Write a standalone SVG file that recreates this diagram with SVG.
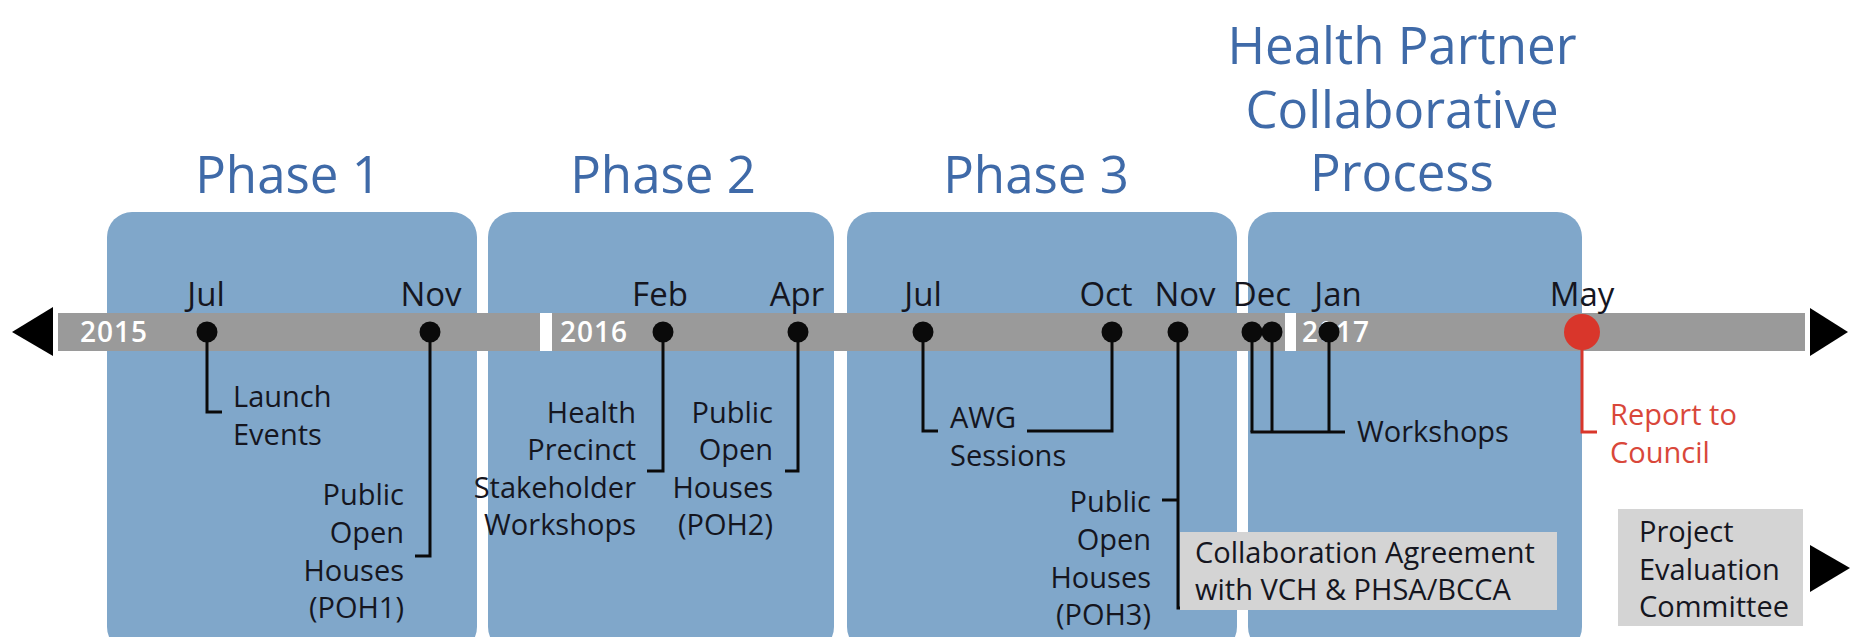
<svg xmlns="http://www.w3.org/2000/svg" width="1851" height="637" viewBox="0 0 1851 637">
<style>
.box{fill:#80a7ca}
.title{font-family:"Open Sans",sans-serif;font-size:51px;fill:#3f6aa8;text-anchor:middle}
.month{font-family:"Open Sans",sans-serif;font-size:33px;fill:#15161f;text-anchor:middle}
.lbl{font-family:"Open Sans",sans-serif;font-size:29px;fill:#15161f}
.r{text-anchor:end}
.year{font-family:"Open Sans",sans-serif;font-size:28px;font-weight:600;fill:#ffffff;letter-spacing:1px}
.dot{fill:#0a0a0a}
.ln{fill:none;stroke:#0a0a0a;stroke-width:3}
.red{fill:#d9473a}
.gbox{fill:#d4d4d4}
</style>
<rect width="1851" height="637" fill="#ffffff"/>
<g id="phase1">
<rect class="box" x="107" y="212" width="370" height="440" rx="25"/>
<text class="title" x="288" y="193">Phase 1</text>
</g>
<g id="phase2">
<rect class="box" x="488" y="212" width="346" height="440" rx="25"/>
<text class="title" x="663" y="193">Phase 2</text>
</g>
<g id="phase3">
<rect class="box" x="847" y="212" width="390" height="440" rx="25"/>
<text class="title" x="1036" y="193">Phase 3</text>
</g>
<g id="phase4">
<rect class="box" x="1248" y="212" width="334" height="440" rx="25"/>
<text class="title" font-size="55"><tspan x="1402" y="64">Health Partner</tspan><tspan x="1402" y="128">Collaborative</tspan><tspan x="1402" y="191">Process</tspan></text>
</g>
<g id="timeline">
<rect x="58" y="313" width="1747" height="38" fill="#9a9a9a"/>
<polygon points="12,332 53,307 53,356" fill="#000"/>
<polygon points="1848,332 1810,308 1810,356" fill="#000"/>
<rect x="540" y="313" width="12" height="38" fill="#fff"/>
<rect x="1285" y="313" width="11" height="38" fill="#fff"/>
<text class="year" x="80" y="342">2015</text>
<text class="year" x="560" y="342">2016</text>
<text class="year" x="1302" y="342">2017</text>
</g>
<g id="connectors">
<polyline class="ln" points="207,332 207,412 222,412"/>
<polyline class="ln" points="430,332 430,556 415,556"/>
<polyline class="ln" points="663,332 663,471 647,471"/>
<polyline class="ln" points="798,332 798,471 785,471"/>
<polyline class="ln" points="923,332 923,431 938,431"/>
<polyline class="ln" points="1112,332 1112,431 1027,431"/>
<polyline class="ln" points="1178,332 1178,608 1192,608"/>
<line class="ln" x1="1162" y1="500" x2="1178" y2="500"/>
<line class="ln" x1="1252" y1="332" x2="1252" y2="432"/>
<line class="ln" x1="1272" y1="332" x2="1272" y2="432"/>
<line class="ln" x1="1329" y1="332" x2="1329" y2="432"/>
<line class="ln" x1="1250.5" y1="432" x2="1345" y2="432"/>
<polyline points="1582,332 1582,432 1597,432" fill="none" stroke="#d9362b" stroke-width="3"/>
</g>
<g id="collab">
<rect class="gbox" x="1180" y="532" width="377" height="78"/>
<text class="lbl" x="1195" y="563">Collaboration Agreement</text>
<text class="lbl" x="1195" y="600">with VCH &amp; PHSA/BCCA</text>
</g>
<g id="pec">
<rect class="gbox" x="1618" y="509" width="185" height="117"/>
<text class="lbl" x="1639" y="542">Project</text>
<text class="lbl" x="1639" y="580">Evaluation</text>
<text class="lbl" x="1639" y="617">Committee</text>
<polygon points="1850,568 1810,545 1810,592" fill="#000"/>
</g>
<g id="ev-jul15">
<circle class="dot" cx="207" cy="332" r="10.5"/>
<text class="month" x="206" y="306">Jul</text>
<text class="lbl" x="233" y="407">Launch</text>
<text class="lbl" x="233" y="445">Events</text>
</g>
<g id="ev-nov15">
<circle class="dot" cx="430" cy="332" r="10.5"/>
<text class="month" x="431" y="306">Nov</text>
<text class="lbl r" x="404" y="505">Public</text>
<text class="lbl r" x="404" y="543">Open</text>
<text class="lbl r" x="404" y="581">Houses</text>
<text class="lbl r" x="404" y="618">(POH1)</text>
</g>
<g id="ev-feb16">
<circle class="dot" cx="663" cy="332" r="10.5"/>
<text class="month" x="660" y="306">Feb</text>
<text class="lbl r" x="636" y="423">Health</text>
<text class="lbl r" x="636" y="460">Precinct</text>
<text class="lbl r" x="636" y="498">Stakeholder</text>
<text class="lbl r" x="636" y="535">Workshops</text>
</g>
<g id="ev-apr16">
<circle class="dot" cx="798" cy="332" r="10.5"/>
<text class="month" x="797" y="306">Apr</text>
<text class="lbl r" x="773" y="423">Public</text>
<text class="lbl r" x="773" y="460">Open</text>
<text class="lbl r" x="773" y="498">Houses</text>
<text class="lbl r" x="773" y="535">(POH2)</text>
</g>
<g id="ev-jul16">
<circle class="dot" cx="923" cy="332" r="10.5"/>
<text class="month" x="923" y="306">Jul</text>
<text class="lbl" x="950" y="428">AWG</text>
<text class="lbl" x="950" y="466">Sessions</text>
</g>
<g id="ev-oct16">
<circle class="dot" cx="1112" cy="332" r="10.5"/>
<text class="month" x="1106" y="306">Oct</text>
</g>
<g id="ev-nov16">
<circle class="dot" cx="1178" cy="332" r="10.5"/>
<text class="month" x="1185" y="306">Nov</text>
<text class="lbl r" x="1151" y="512">Public</text>
<text class="lbl r" x="1151" y="550">Open</text>
<text class="lbl r" x="1151" y="588">Houses</text>
<text class="lbl r" x="1151" y="625">(POH3)</text>
</g>
<g id="ev-dec16">
<circle class="dot" cx="1252" cy="332" r="10.5"/>
<circle class="dot" cx="1272" cy="332" r="10.5"/>
<text class="month" x="1262" y="306">Dec</text>
</g>
<g id="ev-jan17">
<circle class="dot" cx="1329" cy="332" r="10.5"/>
<text class="month" x="1338" y="306">Jan</text>
<text class="lbl" x="1357" y="442">Workshops</text>
</g>
<g id="ev-may17">
<circle cx="1582" cy="332" r="18" fill="#d9362b"/>
<text class="month" x="1582" y="306">May</text>
<text class="lbl red" x="1610" y="425">Report to</text>
<text class="lbl red" x="1610" y="463">Council</text>
</g>
</svg>
